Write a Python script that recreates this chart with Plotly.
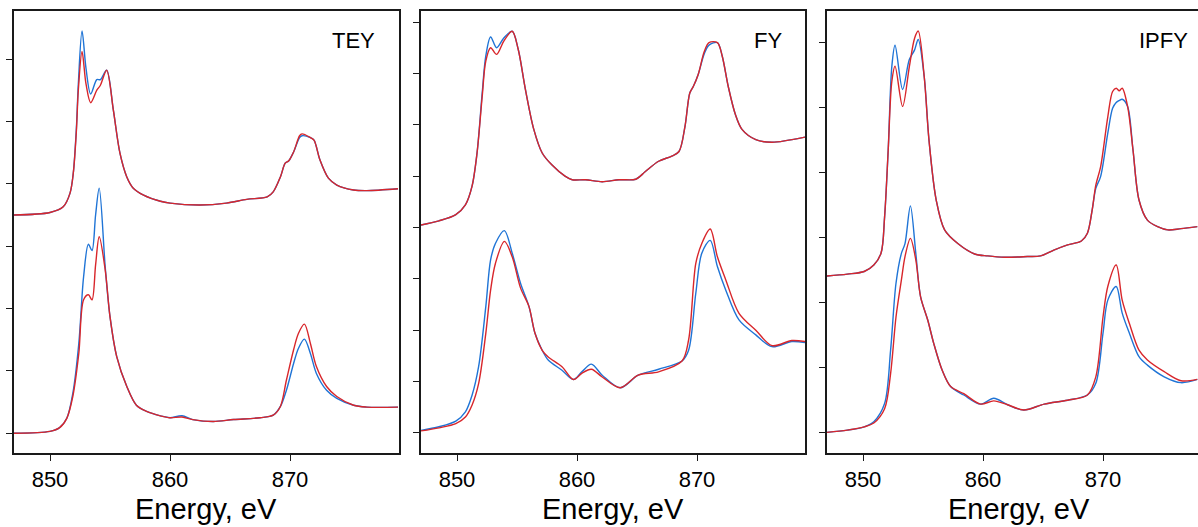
import plotly.graph_objects as go

# ---------------- data ----------------
# Panel 1: TEY
tey_top_e = [847.0, 850.0, 851.1, 851.67, 851.94, 852.2, 852.36, 852.67, 853.0, 853.39, 853.9, 854.2,
             854.72, 855.28, 855.83, 856.4, 856.94, 857.8, 859.2, 860.0, 862.5, 864.7, 866.4, 868.1,
             868.6, 869.2, 869.6, 869.9, 870.3, 870.8, 871.0, 871.7, 872.0, 872.5, 873.2, 873.9,
             875.3, 876.4, 879.0]
tey_top_blue = [3.50, 3.54, 3.63, 3.85, 4.17, 4.90, 5.60, 6.45, 5.85, 5.44, 5.67, 5.67,
                5.82, 5.18, 4.49, 4.11, 3.93, 3.82, 3.72, 3.69, 3.66, 3.69, 3.75, 3.79,
                3.87, 4.11, 4.33, 4.37, 4.51, 4.74, 4.77, 4.74, 4.70, 4.38, 4.09, 3.98,
                3.90, 3.89, 3.92]
tey_top_red = [3.50, 3.54, 3.63, 3.85, 4.17, 4.85, 5.50, 6.12, 5.60, 5.30, 5.50, 5.58,
               5.82, 5.18, 4.49, 4.11, 3.93, 3.82, 3.72, 3.69, 3.66, 3.69, 3.75, 3.79,
               3.87, 4.11, 4.33, 4.37, 4.51, 4.77, 4.80, 4.74, 4.70, 4.38, 4.09, 3.98,
               3.90, 3.89, 3.92]

tey_bot_e = [847.0, 850.0, 850.8, 851.4, 851.9, 852.4, 852.8, 853.2, 853.5, 853.8, 854.1, 854.6,
             855.0, 855.56, 856.4, 857.2, 858.05, 859.2, 860.0, 861.0, 861.9, 863.6, 865.3, 867.5,
             868.6, 869.2, 869.7, 870.3, 870.7, 871.2, 871.7, 872.2, 873.05, 873.9, 875.3, 876.4, 879.0]
tey_bot_blue = [0.00, 0.03, 0.09, 0.24, 0.64, 1.44, 2.51, 3.03, 2.93, 3.50, 3.93, 2.67,
                1.87, 1.23, 0.75, 0.45, 0.35, 0.28, 0.25, 0.28, 0.22, 0.19, 0.22, 0.25,
                0.29, 0.43, 0.69, 1.12, 1.36, 1.51, 1.28, 0.96, 0.69, 0.56, 0.45, 0.42, 0.42]
tey_bot_red = [0.00, 0.03, 0.09, 0.24, 0.59, 1.28, 2.14, 2.22, 2.14, 2.70, 3.15, 2.62,
               1.87, 1.23, 0.75, 0.45, 0.35, 0.28, 0.25, 0.26, 0.22, 0.19, 0.22, 0.25,
               0.29, 0.43, 0.85, 1.34, 1.60, 1.75, 1.44, 1.07, 0.75, 0.59, 0.45, 0.42, 0.42]

# Panel 2: FY
fy_top_e = [847.0, 848.5, 849.9, 850.7, 851.25, 851.67, 852.1, 852.4, 852.8, 853.3, 853.9, 854.6,
            855.1, 855.7, 856.4, 857.1, 857.9, 859.0, 859.6, 860.7, 862.1, 863.5, 864.9, 865.7,
            866.8, 867.9, 868.5, 869.0, 869.4, 869.7, 870.1, 870.6, 871.0, 871.7, 872.1, 872.6,
            873.2, 873.75, 874.9, 876.25, 879.0]
fy_top_blue = [4.05, 4.13, 4.25, 4.44, 4.80, 5.45, 6.62, 7.34, 7.71, 7.50, 7.69, 7.82,
               7.47, 6.69, 5.91, 5.45, 5.22, 5.00, 4.93, 4.93, 4.89, 4.93, 4.94, 5.09,
               5.29, 5.39, 5.48, 5.97, 6.62, 6.75, 6.98, 7.38, 7.55, 7.60, 7.34, 6.75,
               6.20, 5.91, 5.71, 5.66, 5.76]
fy_top_red = [4.05, 4.13, 4.25, 4.44, 4.80, 5.45, 6.55, 7.24, 7.50, 7.37, 7.63, 7.82,
              7.47, 6.69, 5.91, 5.45, 5.22, 5.00, 4.93, 4.93, 4.89, 4.93, 4.94, 5.09,
              5.29, 5.39, 5.48, 5.97, 6.62, 6.75, 6.98, 7.42, 7.60, 7.60, 7.34, 6.75,
              6.20, 5.91, 5.71, 5.66, 5.76]

fy_bot_e = [847.0, 848.5, 849.9, 850.7, 851.25, 851.8, 852.4, 852.8, 853.2, 853.95, 854.6, 855.3,
            856.0, 856.5, 857.1, 857.6, 858.75, 859.7, 860.4, 861.2, 862.1, 863.6, 865.1, 866.8,
            868.75, 869.3, 869.9, 870.4, 871.1, 871.7, 872.4, 873.5, 874.9, 876.25, 877.9, 879.0]
fy_bot_blue = [0.05, 0.12, 0.23, 0.41, 0.73, 1.29, 2.46, 3.37, 3.69, 3.94, 3.50, 2.91,
               2.46, 1.94, 1.61, 1.42, 1.22, 1.04, 1.19, 1.34, 1.125, 0.88, 1.125, 1.24,
               1.40, 1.61, 2.72, 3.50, 3.75, 3.24, 2.78, 2.20, 1.91, 1.68, 1.78, 1.76]
fy_bot_red = [0.04, 0.10, 0.18, 0.31, 0.54, 0.96, 1.94, 2.78, 3.30, 3.73, 3.43, 2.82,
              2.46, 1.94, 1.61, 1.48, 1.29, 1.04, 1.16, 1.24, 1.09, 0.88, 1.125, 1.19,
              1.40, 1.81, 3.30, 3.69, 3.97, 3.43, 2.98, 2.33, 2.00, 1.70, 1.80, 1.78]

# Panel 3: IPFY
ipfy_top_e = [846.95, 848.7, 850.1, 850.9, 851.5, 851.8, 852.1, 852.4, 852.67, 853.3, 853.86, 854.3,
              854.6, 855.1, 855.5, 856.1, 856.8, 857.9, 859.3, 860.4, 861.8, 863.7, 864.8, 865.9,
              867.05, 868.2, 868.7, 869.1, 869.4, 869.8, 870.4, 870.8, 871.1, 871.35, 871.6, 872.05,
              872.5, 873.0, 873.7, 874.55, 875.4, 876.5, 877.86]
ipfy_top_blue = [2.41, 2.44, 2.48, 2.58, 2.76, 3.32, 4.35, 5.63, 5.96, 5.28, 5.74, 5.89,
                 6.05, 5.48, 4.50, 3.58, 3.12, 2.91, 2.75, 2.72, 2.70, 2.71, 2.72, 2.81,
                 2.89, 2.95, 3.07, 3.43, 3.76, 3.94, 4.61, 4.99, 5.08, 5.11, 5.13, 5.02,
                 4.35, 3.58, 3.27, 3.17, 3.12, 3.14, 3.17]
ipfy_top_red = [2.41, 2.44, 2.48, 2.58, 2.76, 3.32, 4.35, 5.40, 5.64, 5.02, 5.63, 6.07,
                6.18, 5.48, 4.50, 3.58, 3.12, 2.91, 2.75, 2.72, 2.70, 2.71, 2.72, 2.81,
                2.89, 2.95, 3.07, 3.43, 3.81, 4.09, 4.86, 5.25, 5.30, 5.26, 5.30, 5.02,
                4.35, 3.58, 3.27, 3.17, 3.12, 3.14, 3.17]

ipfy_bot_e = [846.95, 848.7, 850.1, 850.9, 851.8, 852.3, 852.75, 853.2, 853.5, 853.95, 854.4, 854.8,
              855.4, 855.9, 856.6, 857.3, 858.4, 859.8, 860.9, 862.05, 863.4, 865.1, 867.05, 868.7,
              869.4, 870.0, 870.4, 871.1, 871.6, 872.2, 873.0, 873.7, 875.1, 876.5, 877.86]
ipfy_bot_blue = [0.005, 0.04, 0.09, 0.17, 0.45, 1.27, 2.30, 2.76, 2.91, 3.49, 2.76, 2.09,
                 1.73, 1.37, 0.96, 0.71, 0.58, 0.44, 0.53, 0.43, 0.35, 0.44, 0.50, 0.58,
                 0.76, 1.53, 2.04, 2.25, 1.84, 1.53, 1.17, 1.04, 0.86, 0.77, 0.82]
ipfy_bot_red = [0.005, 0.04, 0.09, 0.15, 0.37, 0.91, 1.78, 2.35, 2.71, 2.99, 2.66, 2.09,
                1.73, 1.37, 0.96, 0.71, 0.60, 0.44, 0.49, 0.43, 0.35, 0.44, 0.50, 0.58,
                0.86, 1.78, 2.25, 2.58, 2.04, 1.68, 1.27, 1.12, 0.94, 0.80, 0.82]

panel_labels = ["TEY", "FY", "IPFY"]
x_ticks = [850, 860, 870]
x_title = "Energy, eV"

# ---------------- figure ----------------
W, H = 1198, 527
BLUE = "#1f74d6"
RED = "#d8262b"
FONT = "Liberation Sans, Arial, Helvetica, sans-serif"

fig = go.Figure()

panels = [
    (tey_top_e, tey_top_blue, tey_top_red, tey_bot_e, tey_bot_blue, tey_bot_red),
    (fy_top_e, fy_top_blue, fy_top_red, fy_bot_e, fy_bot_blue, fy_bot_red),
    (ipfy_top_e, ipfy_top_blue, ipfy_top_red, ipfy_bot_e, ipfy_bot_blue, ipfy_bot_red),
]

for i, (te, tb, tr, be, bb, br) in enumerate(panels):
    ax = "" if i == 0 else str(i + 1)
    for e, b, r in ((te, tb, tr), (be, bb, br)):
        for y, c in ((b, BLUE), (r, RED)):
            fig.add_trace(go.Scatter(x=e, y=y, mode="lines",
                                     line=dict(color=c, width=1.4, shape="spline", smoothing=0.9),
                                     xaxis="x" + ax, yaxis="y" + ax, showlegend=False,
                                     hoverinfo="skip"))

# pixel geometry
left_px = [14, 421, 827]
right_px = [399, 805, 1198]
top_px, bot_px = 11, 453
px_per_ev = 12.0
ydom = [(H - bot_px) / H, (H - top_px) / H]
y_ranges = [(-0.316, 6.77), (-0.39, 8.215), (-0.312, 6.488)]
y_ticks = [list(range(0, 7)), list(range(0, 9)), list(range(0, 7))]

axis_common = dict(showline=True, linecolor="#1a1a1a", linewidth=1.5, ticks="outside",
                   ticklen=6, tickwidth=1.3, tickcolor="#1a1a1a", showgrid=False,
                   zeroline=False)

layout = dict(width=W, height=H, margin=dict(l=0, r=0, t=0, b=0, pad=0),
              paper_bgcolor="white", plot_bgcolor="white",
              font=dict(family=FONT, color="black"), showlegend=False)

annotations = []
for i in range(3):
    ax = "" if i == 0 else str(i + 1)
    xr = [847.0, 847.0 + (right_px[i] - left_px[i]) / px_per_ev]
    layout["xaxis" + ax] = dict(axis_common, domain=[left_px[i] / W, right_px[i] / W],
                                range=xr, tickvals=x_ticks, mirror=True,
                                tickfont=dict(size=22, family=FONT, color="black"),
                                anchor="y" + ax)
    layout["yaxis" + ax] = dict(axis_common, domain=ydom, range=list(y_ranges[i]),
                                tickvals=y_ticks[i], showticklabels=False,
                                mirror=(i < 2), anchor="x" + ax)
    full_right = left_px[i] + 32 * px_per_ev + 0.5
    annotations.append(dict(text=panel_labels[i], xref="paper", yref="paper",
                            x=(full_right - 22) / W, y=(H - 40) / H,
                            xanchor="right", yanchor="middle", showarrow=False,
                            font=dict(size=22, family=FONT, color="black")))
    center = (left_px[i] + full_right) / 2
    annotations.append(dict(text=x_title, xref="paper", yref="paper",
                            x=center / W, y=(H - 509) / H,
                            xanchor="center", yanchor="middle", showarrow=False,
                            font=dict(size=29, family=FONT, color="black")))

layout["annotations"] = annotations
fig.update_layout(**layout)
fig.write_html("out.html")
